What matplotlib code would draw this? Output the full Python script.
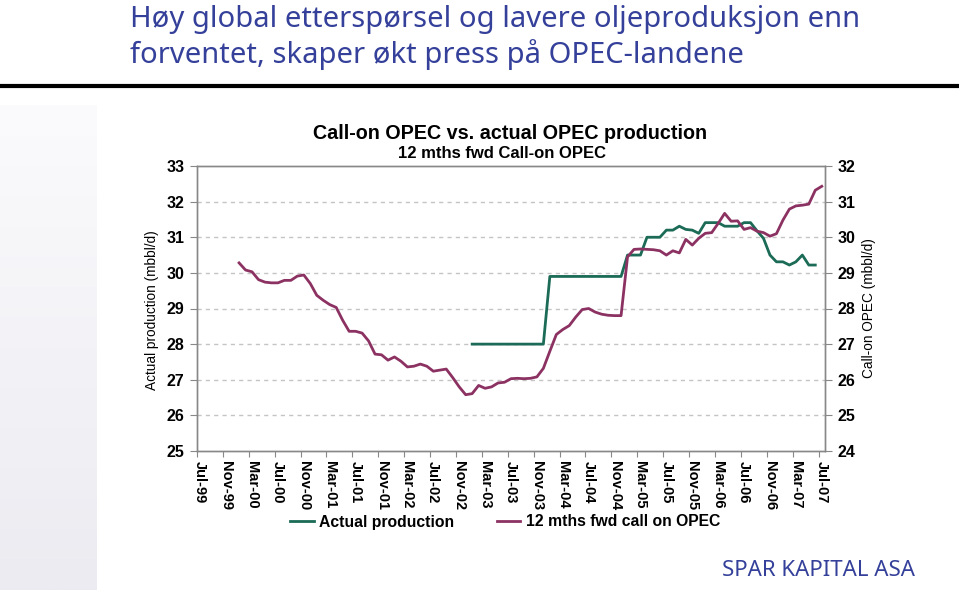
import matplotlib
matplotlib.use("Agg")
import matplotlib.pyplot as plt
from matplotlib.lines import Line2D
import numpy as np

# x tick labels (every 4th month, Jul-99 .. Jul-07)
tick_labels = ['Jul-99', 'Nov-99', 'Mar-00', 'Jul-00', 'Nov-00', 'Mar-01', 'Jul-01',
               'Nov-01', 'Mar-02', 'Jul-02', 'Nov-02', 'Mar-03', 'Jul-03', 'Nov-03',
               'Mar-04', 'Jul-04', 'Nov-04', 'Mar-05', 'Jul-05', 'Nov-05', 'Mar-06',
               'Jul-06', 'Nov-06', 'Mar-07', 'Jul-07']
n_months = 97  # Jul-99 .. Jul-07

# Actual production (left axis), monthly from Jan-03
actual_start = 42
actual = [28.0, 28.0, 28.0, 28.0, 28.0, 28.0, 28.0, 28.0, 28.0, 28.0, 28.0, 28.0,
          29.9, 29.9, 29.9, 29.9, 29.9, 29.9, 29.9, 29.9, 29.9, 29.9, 29.9, 29.9,
          30.5, 30.5, 30.5, 31.0, 31.0, 31.0,
          31.2, 31.2, 31.31, 31.22, 31.2, 31.11,
          31.41, 31.41, 31.41, 31.31, 31.31, 31.31, 31.41, 31.41, 31.18, 30.97,
          30.50, 30.31, 30.31, 30.22, 30.31, 30.50, 30.22, 30.22]

# 12 mths fwd call on OPEC (right axis), monthly from Jan-00
call_start = 6
call = [29.28, 29.08, 29.03, 28.81, 28.74, 28.72, 28.72, 28.79, 28.79, 28.91,
        28.94, 28.70, 28.37, 28.23, 28.11, 28.03, 27.67, 27.36, 27.36, 27.31,
        27.09, 26.72, 26.70, 26.55, 26.64, 26.52, 26.36, 26.38, 26.44, 26.38,
        26.24, 26.27, 26.30, 26.06, 25.80, 25.58, 25.61, 25.84, 25.76, 25.80,
        25.91, 25.93, 26.03, 26.04, 26.03, 26.04, 26.08, 26.32, 26.80, 27.27,
        27.41, 27.52, 27.76, 27.97, 28.00, 27.90, 27.84, 27.81, 27.80, 27.80,
        29.45, 29.66, 29.67, 29.66, 29.65, 29.62, 29.50, 29.62, 29.56, 29.94,
        29.78, 29.97, 30.11, 30.13, 30.39, 30.67, 30.45, 30.46, 30.22, 30.27,
        30.17, 30.13, 30.03, 30.10, 30.48, 30.79, 30.88, 30.90, 30.93, 31.32,
        31.43]

GREEN = '#1b6b57'
PURPLE = '#8c3262'
BLUE = '#34409a'
FONT = 'Liberation Sans'

fig = plt.figure(figsize=(9.59, 5.90), dpi=100)

# faint gradient panel on the left
bg = fig.add_axes([0, 0, 97 / 959, 485 / 590], zorder=0)
grad = np.linspace(0, 1, 256).reshape(-1, 1)
bg.imshow(grad, aspect='auto', cmap=matplotlib.colors.LinearSegmentedColormap.from_list(
    'g', ['#ebebf1', '#fbfbfd']), origin='lower', extent=[0, 1, 0, 1])
bg.axis('off')

# slide title
fig.text(130 / 959, 1 - 27 / 590, 'Høy global etterspørsel og lavere oljeproduksjon enn',
         fontsize=21, color=BLUE, family='Noto Sans', va='baseline', ha='left')
fig.text(130 / 959, 1 - 63 / 590, 'forventet, skaper økt press på OPEC-landene',
         fontsize=21, color=BLUE, family='Noto Sans', va='baseline', ha='left')
fig.add_artist(Line2D([0, 1], [1 - 85.5 / 590] * 2, transform=fig.transFigure,
                      color='black', lw=3))
fig.text(915 / 959, 1 - 576 / 590, 'SPAR KAPITAL ASA', fontsize=16, color=BLUE,
         family='Noto Sans', va='baseline', ha='right')

# chart
ax = fig.add_axes([197 / 959, 1 - 451 / 590, 628 / 959, 285 / 590], zorder=2)
ax.patch.set_alpha(0)
ax2 = ax.twinx()

x_act = np.arange(actual_start, actual_start + len(actual))
x_call = np.arange(call_start, call_start + len(call))
ax.plot(x_act, actual, color=GREEN, lw=2, label='Actual production', zorder=3)
ax2.plot(x_call, call, color=PURPLE, lw=2, label='12 mths fwd call on OPEC', zorder=3)

ax.set_xlim(-0.5, n_months - 0.5)
ax.set_ylim(25, 33)
ax2.set_ylim(24, 32)
ax.set_yticks(range(25, 34))
ax2.set_yticks(range(24, 33))

for y in range(26, 33):
    ax.axhline(y, color='#c4c4c4', lw=1, ls=(0, (3, 3)), zorder=1)

tick_pos = np.arange(0, n_months, 4)
ax.set_xticks(tick_pos - 0.5)
ax.set_xticklabels([])
ax.set_xticks(tick_pos, minor=True)
ax.set_xticklabels(tick_labels, minor=True, rotation=-90, fontsize=10.5,
                   fontweight='bold', family=FONT, va='top', ha='center')
ax.tick_params(axis='x', which='major', length=4, color='#888888', direction='out')
ax.tick_params(axis='x', which='minor', length=0, pad=7)

for a in (ax, ax2):
    for s in a.spines.values():
        s.set_color('#888888')
        s.set_linewidth(1)
    a.tick_params(axis='y', length=5, color='#888888', labelsize=11.5, pad=4)
    for lbl in a.get_yticklabels():
        lbl.set_fontweight('bold')
        lbl.set_family(FONT)

fig.text(152 / 959, 1 - 310 / 590, 'Actual production (mbbl/d)', rotation=90,
         fontsize=9.8, family=FONT, ha='center', va='center')
fig.text(869 / 959, 1 - 308 / 590, 'Call-on OPEC (mbbl/d)', rotation=90,
         fontsize=9.8, family=FONT, ha='center', va='center')

fig.text(510 / 959, 1 - 139 / 590, 'Call-on OPEC vs. actual OPEC production',
         fontsize=14.2, fontweight='bold', family=FONT, ha='center', va='baseline')
fig.text(502 / 959, 1 - 158 / 590, '12 mths fwd Call-on OPEC',
         fontsize=12, fontweight='bold', family=FONT, ha='center', va='baseline')

handles = [Line2D([], [], color=GREEN, lw=2), Line2D([], [], color=PURPLE, lw=2)]
fig.legend(handles, ['Actual production', '12 mths fwd call on OPEC'], ncol=2,
           loc='center', bbox_to_anchor=(505 / 959, 1 - 522 / 590), frameon=False,
           prop={'family': FONT, 'size': 11.3, 'weight': 'bold'}, handlelength=1.5,
           handletextpad=0.35, columnspacing=2.7)

fig.savefig('out.png', dpi=100, facecolor='white')
